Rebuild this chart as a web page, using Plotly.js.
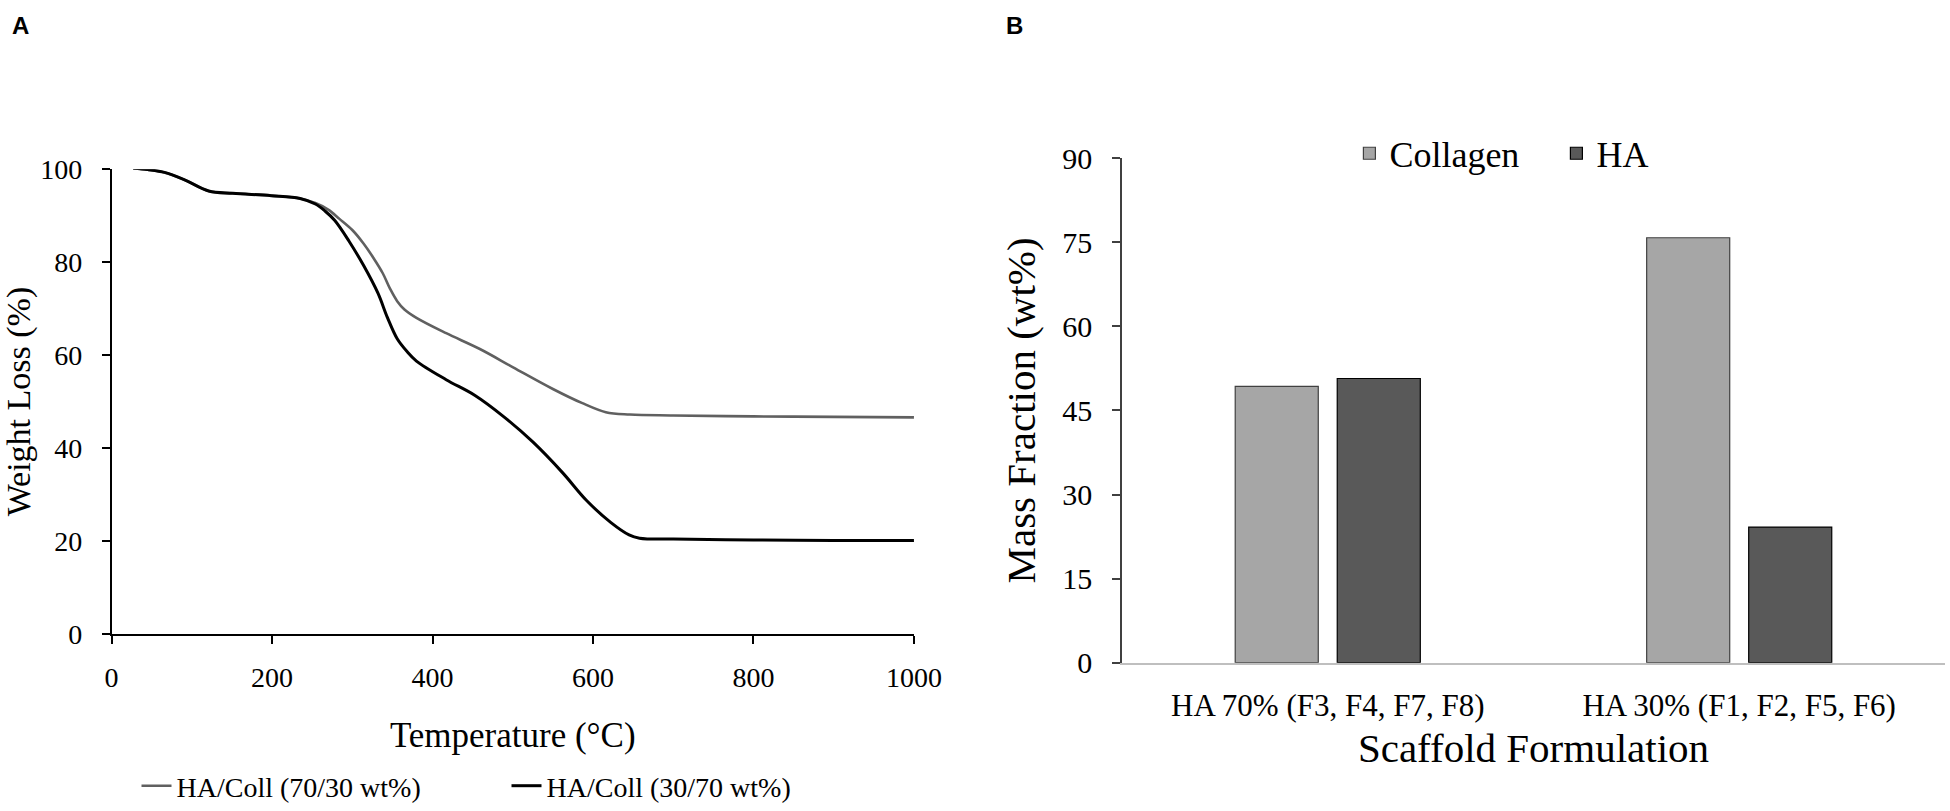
<!DOCTYPE html>
<html>
<head>
<meta charset="utf-8">
<script src="https://cdn.plot.ly/plotly-3.0.1.min.js"></script>
<style>
  body { margin: 0; background: #fff; }
  #chart { width: 1950px; height: 811px; }
</style>
</head>
<body>
<div id="chart"></div>
<script>
// Panel A: TGA curves (temperature in °C, weight in %)
var tempColl70 = [27, 45, 66, 91, 121, 151, 199, 235, 254, 270, 284, 300, 314, 326, 338, 347, 356, 365, 380, 417, 459, 501, 550, 586, 616, 646, 700, 800, 900, 1000];
var wtColl70   = [100.2, 99.9, 99.3, 97.7, 95.3, 94.8, 94.3, 93.7, 92.7, 91.3, 89.3, 86.9, 84, 81, 77.6, 74.3, 71.6, 69.8, 68, 64.7, 61.3, 57.3, 52.7, 49.7, 47.7, 47.2, 47.0, 46.8, 46.7, 46.6];

var tempColl30 = [27, 45, 66, 91, 121, 151, 199, 235, 254, 266, 278, 296, 314, 332, 344, 356, 368, 380, 417, 453, 489, 525, 562, 592, 622, 645, 658, 700, 800, 900, 1000];
var wtColl30   = [100.2, 99.9, 99.3, 97.7, 95.3, 94.8, 94.3, 93.7, 92.5, 91, 89, 84.5, 79.3, 73.3, 68, 63.5, 60.8, 58.7, 54.7, 51.3, 46.7, 41.3, 34.7, 28.7, 24, 21.3, 20.6, 20.4, 20.2, 20.1, 20.1];

// Panel B: mass fractions
var formulations = ['HA 70% (F3, F4, F7, F8)', 'HA 30% (F1, F2, F5, F6)'];
var collagenFrac = [49.3, 75.8];
var haFrac       = [50.7, 24.2];

var serif = 'Liberation Serif, Times New Roman, serif';

var traceA1 = {
    x: tempColl70, y: wtColl70,
    mode: 'lines', type: 'scatter',
    name: 'HA/Coll (70/30 wt%)',
    line: {color: '#606060', width: 2.6, shape: 'spline', smoothing: 1},
    xaxis: 'x', yaxis: 'y', legend: 'legend'
};
var traceA2 = {
    x: tempColl30, y: wtColl30,
    mode: 'lines', type: 'scatter',
    name: 'HA/Coll (30/70 wt%)',
    line: {color: '#000000', width: 3, shape: 'spline', smoothing: 1},
    xaxis: 'x', yaxis: 'y', legend: 'legend'
};
var traceB1 = {
    x: formulations, y: collagenFrac,
    type: 'bar', name: 'Collagen',
    marker: {color: '#a6a6a6', line: {color: '#404040', width: 1.2}},
    xaxis: 'x2', yaxis: 'y2', legend: 'legend2'
};
var traceB2 = {
    x: formulations, y: haFrac,
    type: 'bar', name: 'HA',
    marker: {color: '#595959', line: {color: '#000000', width: 1.2}},
    xaxis: 'x2', yaxis: 'y2', legend: 'legend2'
};

var layout = {
    width: 1950, height: 811,
    margin: {t: 0, r: 0, l: 0, b: 0},
    paper_bgcolor: '#fff', plot_bgcolor: '#fff',
    font: {family: serif, color: '#000'},
    barmode: 'group', bargap: 0.504, bargroupgap: 0.186,
    xaxis: {
        anchor: 'y', domain: [0.0572, 0.4687], range: [0, 1000],
        tickvals: [0, 200, 400, 600, 800, 1000],
        showgrid: false, zeroline: false,
        showline: true, linecolor: '#000', linewidth: 1.5,
        ticks: 'outside', ticklen: 8, tickcolor: '#000', tickwidth: 1.5,
        ticklabelstandoff: 10,
        tickfont: {size: 28, family: serif},
        title: {text: 'Temperature (°C)', font: {size: 35, family: serif}, standoff: 30}
    },
    yaxis: {
        anchor: 'x', domain: [0.2145, 0.7904], range: [0, 100],
        tickvals: [0, 20, 40, 60, 80, 100],
        showgrid: false, zeroline: false,
        showline: true, linecolor: '#000', linewidth: 1.5,
        ticks: 'outside', ticklen: 8, tickcolor: '#000', tickwidth: 1.5,
        ticklabelstandoff: 14,
        tickfont: {size: 28, family: serif},
        title: {text: 'Weight Loss (%)', font: {size: 34, family: serif}, standoff: 24}
    },
    xaxis2: {
        anchor: 'y2', domain: [0.5754, 0.9974],
        showgrid: false, zeroline: false,
        showline: true, linecolor: '#bfbfbf', linewidth: 1.5,
        ticks: '',
        ticklabelstandoff: 14,
        tickfont: {size: 31, family: serif},
        title: {text: 'Scaffold Formulation', font: {size: 41, family: serif}, standoff: 12}
    },
    yaxis2: {
        anchor: 'x2', domain: [0.1788, 0.804], range: [0, 90],
        tickvals: [0, 15, 30, 45, 60, 75, 90],
        showgrid: false, zeroline: false,
        showline: true, linecolor: '#404040', linewidth: 1.5,
        ticks: 'outside', ticklen: 8, tickcolor: '#404040', tickwidth: 1.5,
        ticklabelstandoff: 14,
        tickfont: {size: 30, family: serif},
        title: {text: 'Mass Fraction (wt%)', font: {size: 41, family: serif}, standoff: 14}
    },
    legend: {
        orientation: 'h', x: 0.07, y: 0.026, xanchor: 'left', yanchor: 'middle',
        entrywidth: 325, entrywidthmode: 'pixels',
        font: {size: 28, family: serif}, bgcolor: 'rgba(0,0,0,0)'
    },
    legend2: {
        orientation: 'h', x: 0.692, y: 0.81, xanchor: 'left', yanchor: 'middle',
        entrywidth: 162, entrywidthmode: 'pixels',
        font: {size: 36, family: serif}, bgcolor: 'rgba(0,0,0,0)'
    },
    annotations: [
        {text: '<b>A</b>', x: 0.005, y: 0.968, xref: 'paper', yref: 'paper', xanchor: 'left', yanchor: 'middle',
         showarrow: false, font: {size: 24, family: 'Liberation Sans, Arial, sans-serif'}},
        {text: '<b>B</b>', x: 0.515, y: 0.968, xref: 'paper', yref: 'paper', xanchor: 'left', yanchor: 'middle',
         showarrow: false, font: {size: 24, family: 'Liberation Sans, Arial, sans-serif'}}
    ]
};

Plotly.newPlot('chart', [traceA1, traceA2, traceB1, traceB2], layout, {displayModeBar: false, responsive: false});
</script>
</body>
</html>
